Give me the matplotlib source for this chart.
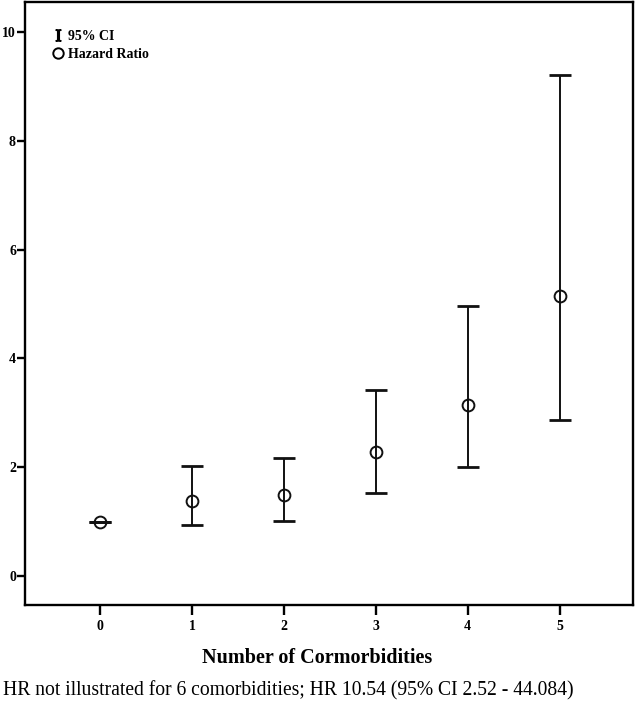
import matplotlib.pyplot as plt
from matplotlib.lines import Line2D

# values
comorbidities = [0, 1, 2, 3, 4, 5]
hazard_ratio = [1.00, 1.38, 1.49, 2.28, 3.14, 5.15]
ci_lower = [1.00, 0.94, 1.01, 1.53, 2.00, 2.87]
ci_upper = [1.00, 2.02, 2.17, 3.42, 4.96, 9.21]
y_ticks = [0, 2, 4, 6, 8, 10]

plt.rcParams['font.family'] = ['Liberation Serif', 'DejaVu Serif']
plt.rcParams['mathtext.fontset'] = 'stix'

fig = plt.figure(figsize=(6.37, 7.10), dpi=100)
ax = fig.add_axes([25 / 637, 1 - 605 / 710, 608 / 637, 603 / 710])

err_lo = [h - l for h, l in zip(hazard_ratio, ci_lower)]
err_hi = [u - h for h, u in zip(hazard_ratio, ci_upper)]
ax.errorbar(comorbidities, hazard_ratio, yerr=[err_lo, err_hi], fmt='none',
            ecolor='#111111', elinewidth=1.4, capsize=8, capthick=2)
ax.plot(comorbidities, hazard_ratio, 'o', ms=8.5, mfc='none', mec='#111111',
        mew=1.4, zorder=3)

ax.set_xlim(-0.82, 5.8)
ax.set_ylim(-0.53, 10.55)
ax.set_xticks(comorbidities)
ax.set_yticks(y_ticks)
for s in ax.spines.values():
    s.set_linewidth(1.7)
ax.tick_params(axis='y', direction='out', length=5.5, width=1.7, pad=1,
               labelsize=10)
ax.tick_params(axis='x', direction='out', length=7, width=1.7, pad=4,
               labelsize=10)
for lab in ax.get_xticklabels() + ax.get_yticklabels():
    lab.set_fontweight('bold')

ax.set_xlabel('Number of Cormorbidities', fontsize=14.5, fontweight='bold')
ax.xaxis.set_label_coords(0.48, -0.072)

handles = [Line2D([], [], color='black', marker='$\\mathrm{I}$', ls='none',
                  ms=8),
           Line2D([], [], color='black', marker='o', mfc='white', ls='none',
                  ms=7.5, mew=1.4)]
leg = ax.legend(handles, ['95% CI', 'Hazard Ratio'], loc='upper left',
                bbox_to_anchor=(0.022, 0.974), frameon=False, handlelength=1,
                handletextpad=0.2, labelspacing=0.35,
                prop={'weight': 'bold', 'size': 10})

fig.text(0.005, 1 - 691 / 710, 'HR not illustrated for 6 comorbidities; '
         'HR 10.54 (95% CI 2.52 - 44.084)', fontsize=14.1, va='center',
         ha='left')

plt.savefig('out.png', dpi=100)
